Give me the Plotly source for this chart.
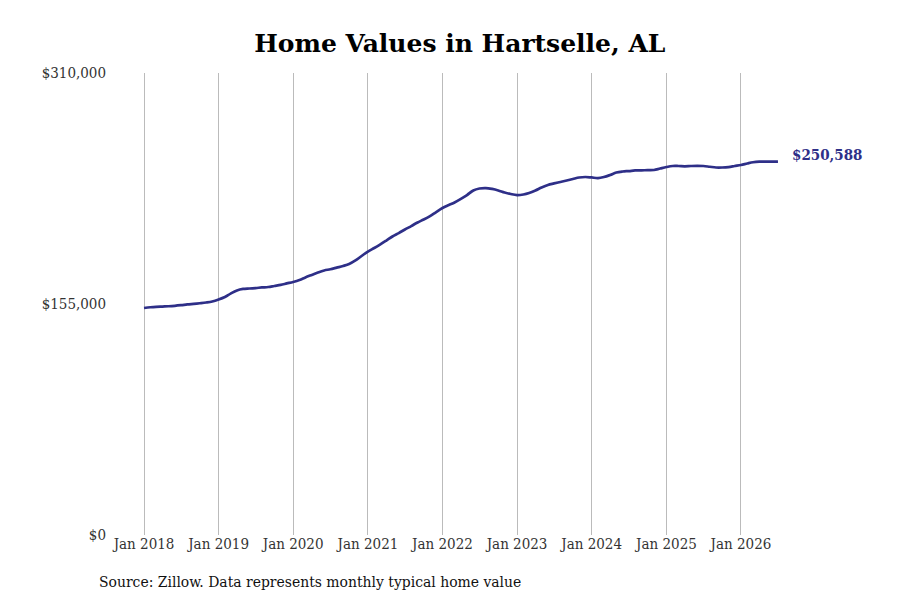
import pandas as pd
import plotly.graph_objects as go

# Monthly typical home value, Hartselle AL
months = pd.date_range('2018-01-01', '2026-07-01', freq='MS')
values = [
    152300, 152800, 153100, 153300, 153500, 153800, 154200, 154700, 155100, 155500, 156000, 156700,  # 2018
    158000, 159700, 162000, 164100, 165100, 165400, 165700, 166100, 166400, 167100, 167800, 168800,  # 2019
    169800, 171100, 172800, 174500, 176100, 177500, 178300, 179400, 180500, 181800, 184200, 187200,  # 2020
    190200, 192600, 194900, 197600, 200300, 202600, 205000, 207300, 209700, 211700, 214000, 216700,  # 2021
    219400, 221400, 223100, 225500, 228100, 231200, 232500, 232800, 232200, 231200, 229800, 228800,  # 2022
    228100, 228500, 229500, 231200, 233200, 234900, 235900, 236900, 237900, 238900, 239900, 240200,  # 2023
    239900, 239500, 240200, 241600, 243200, 243900, 244200, 244600, 244700, 244800, 244900, 245900,  # 2024
    246900, 247600, 247600, 247400, 247600, 247700, 247600, 247100, 246600, 246600, 246900, 247600,  # 2025
    248300, 249300, 250100, 250500, 250550, 250560, 250588,                                          # 2026
]

tick_dates = pd.date_range('2018-01-01', '2026-01-01', freq='YS')
tick_labels = [d.strftime('Jan %Y') for d in tick_dates]
y_ticks = [0, 155000, 310000]
y_labels = ['$0', '$155,000', '$310,000']

LINE_COLOR = '#2e2f88'
FONT = 'DejaVu Serif'
COND = 'DejaVu Serif Condensed, DejaVu Serif'


def create_figure():
    fig = go.Figure()
    fig.add_trace(go.Scatter(x=months, y=values, mode='lines',
                             line=dict(color=LINE_COLOR, width=2.7, shape='spline'),
                             hoverinfo='skip', showlegend=False))

    # label for the latest value
    fig.add_annotation(x=months[-1], y=values[-1], text=f'<b>${values[-1]:,}</b>',
                       showarrow=False, xanchor='left', xshift=12, yshift=7,
                       font=dict(family=COND, size=15, color=LINE_COLOR))

    fig.add_annotation(x=0, y=0, xref='paper', yref='paper', xanchor='left', yanchor='top',
                       xshift=-18, yshift=-36,
                       text='Source: Zillow. Data represents monthly typical home value',
                       showarrow=False, font=dict(family=COND, size=15.5, color='#111'))

    fig.update_layout(
        width=900, height=600,
        margin=dict(l=107, r=128, t=65, b=73),
        paper_bgcolor='white', plot_bgcolor='white',
        title=dict(text='<b>Home Values in Hartselle, AL</b>', x=0.502, xanchor='center',
                   y=0.942, yanchor='middle',
                   font=dict(family=FONT, size=25, color='black')),
        font=dict(family=COND, size=15, color='#333'),
    )
    fig.update_xaxes(range=['2017-08-12', '2026-07-11'], tickvals=tick_dates, ticktext=tick_labels,
                     showgrid=True, gridcolor='#bbbbbb', gridwidth=1, zeroline=False,
                     showline=False, ticks='', ticklabelstandoff=-2)
    fig.update_yaxes(range=[0, 310000], tickvals=y_ticks, ticktext=y_labels,
                     showgrid=False, zeroline=False, showline=False, ticks='',
                     ticklabelstandoff=8)
    return fig


def main():
    fig = create_figure()
    fig.write_html('out.html')


if __name__ == '__main__':
    main()
